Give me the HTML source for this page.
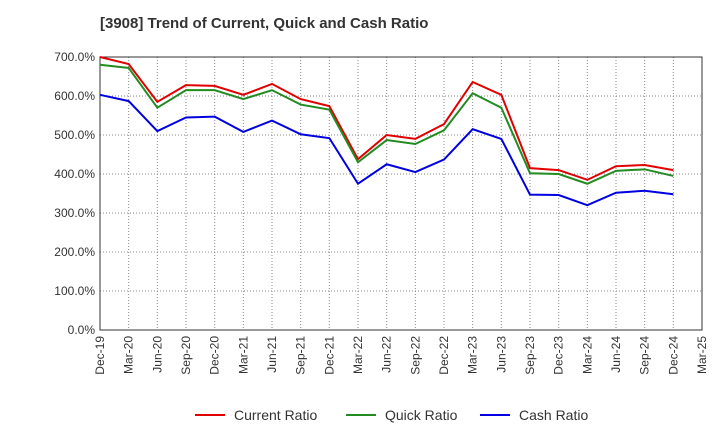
<!DOCTYPE html>
<html><head><meta charset="utf-8"><style>
body{margin:0;background:#fff;font-family:"Liberation Sans",Arial,sans-serif}
svg{display:block}
</style></head><body>
<svg id="chart" width="720" height="440" xmlns="http://www.w3.org/2000/svg">
<text x="100" y="28" font-size="15" font-weight="bold" fill="#333">[3908]  Trend of Current, Quick and Cash Ratio</text>
<g id="grid"></g><g id="axes"></g><g id="series"></g><g id="legend"></g>
</svg>
<script>
const xLabels=["Dec-19","Mar-20","Jun-20","Sep-20","Dec-20","Mar-21","Jun-21","Sep-21","Dec-21","Mar-22","Jun-22","Sep-22","Dec-22","Mar-23","Jun-23","Sep-23","Dec-23","Mar-24","Jun-24","Sep-24","Dec-24","Mar-25"];
const yTicks=[0,100,200,300,400,500,600,700];
const currentRatio=[700,682,585,628,626,603,631,592,574,438,500,490,528,636,603,415,410,385,420,423,410];
const quickRatio=[680,672,570,615,615,592,615,578,565,430,487,477,512,607,570,402,400,375,408,412,395];
const cashRatio=[603,587,510,545,547,508,537,502,492,375,425,405,437,515,490,347,346,320,352,357,348];
const NS="http://www.w3.org/2000/svg";
const L=100,R=702,T=57,B=330;
const xs=i=>L+i*(R-L)/(xLabels.length-1);
const ys=v=>B-(v/700)*(B-T);
function mk(tag,attrs,parent){const e=document.createElementNS(NS,tag);for(const k in attrs)e.setAttribute(k,attrs[k]);parent.appendChild(e);return e;}
const grid=document.getElementById('grid'),axes=document.getElementById('axes'),series=document.getElementById('series'),legend=document.getElementById('legend');
yTicks.forEach(v=>{
  const g=mk('line',{x1:L,x2:R,y1:ys(v),y2:ys(v),stroke:'#888','stroke-dasharray':'1,2','stroke-width':1},grid);
  
  
  const t=mk('text',{x:L-5,y:ys(v)+4,'text-anchor':'end','font-size':12,fill:'#333'},axes);
  t.textContent=v.toFixed(1)+'%';
  
  
});
xLabels.forEach((lab,i)=>{
  const g=mk('line',{x1:xs(i),x2:xs(i),y1:T,y2:B,stroke:'#888','stroke-dasharray':'1,2','stroke-width':1},grid);
  
  
  const t=mk('text',{x:0,y:0,'text-anchor':'end','font-size':12,fill:'#333',transform:`translate(${xs(i)+4},${B+6}) rotate(-90)`},axes);
  t.textContent=lab;
  
  
});
const frame=mk('rect',{x:L,y:T,width:R-L,height:B-T,fill:'none',stroke:'#333','stroke-width':1},axes);


const defs=[["current-ratio-line",currentRatio,"#e00000","Current Ratio",195],["quick-ratio-line",quickRatio,"#228b22","Quick Ratio",346],["cash-ratio-line",cashRatio,"#0000e0","Cash Ratio",480]];
defs.forEach(([name,data,col,label,lx])=>{
  const p=mk('polyline',{points:data.map((v,i)=>xs(i)+','+ys(v)).join(' '),fill:'none',stroke:col,'stroke-width':2},series);
  
  
  const ll=mk('line',{x1:lx,x2:lx+30,y1:415,y2:415,stroke:col,'stroke-width':2},legend);
  
  
  const lt=mk('text',{x:lx+39,y:420,'font-size':14,fill:'#333'},legend);
  lt.textContent=label;
  
  
});
</script>
</body></html>
